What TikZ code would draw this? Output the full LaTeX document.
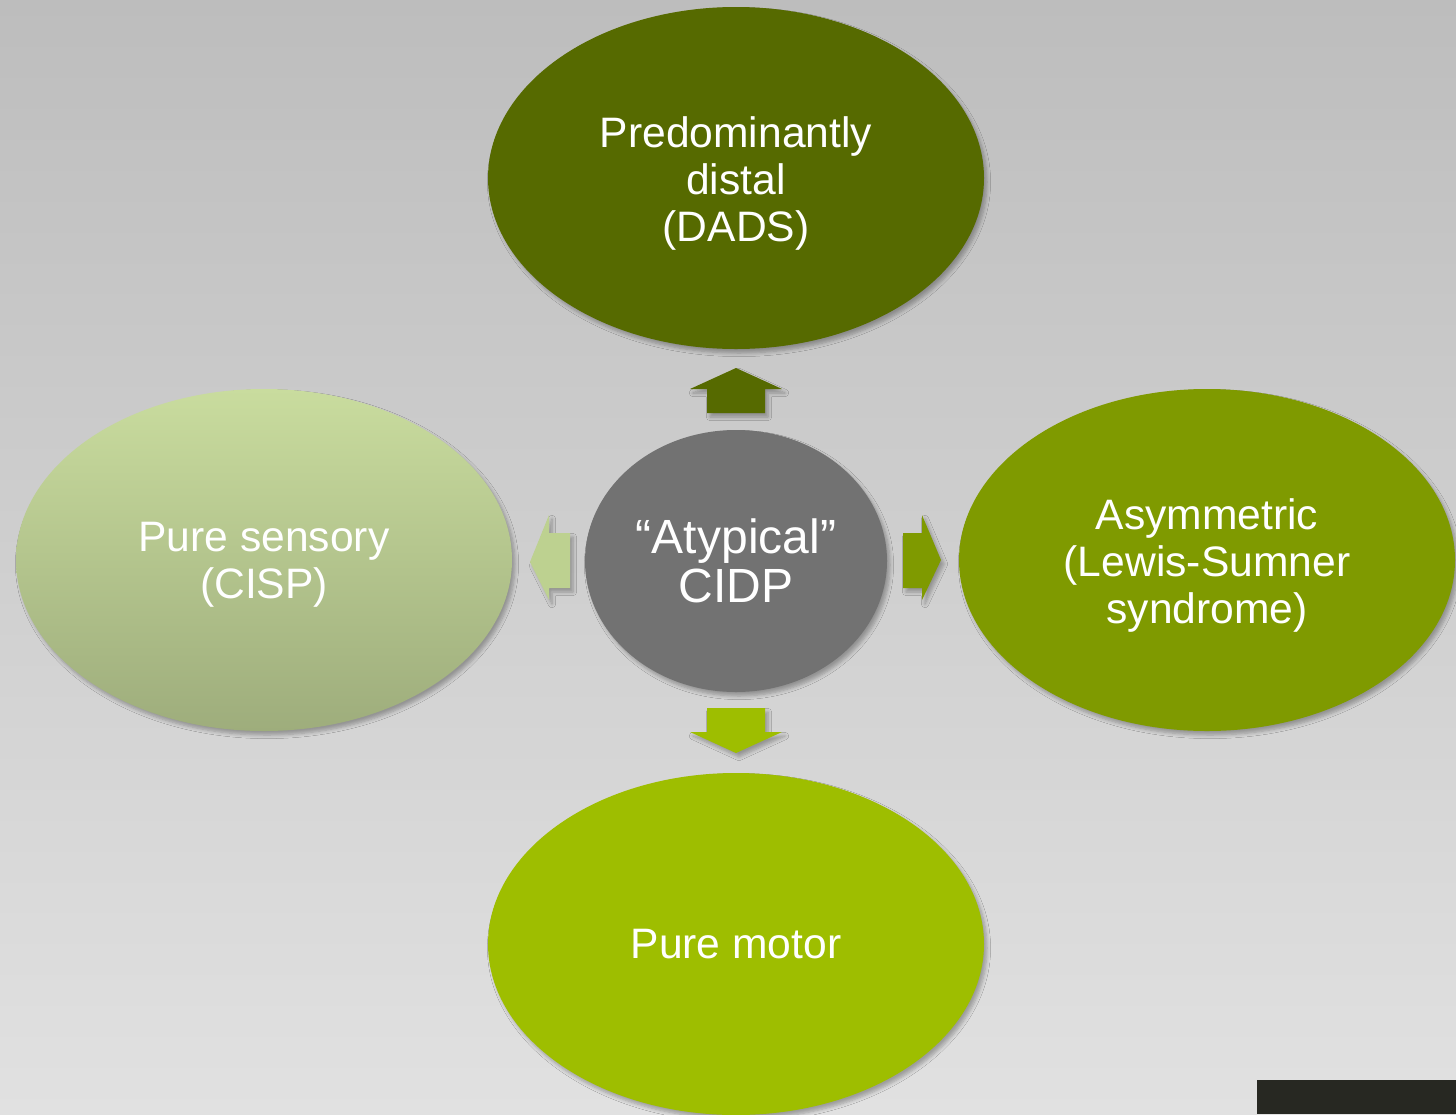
\documentclass[tikz,border=0pt]{standalone}
\usepackage{fontspec}
\setmainfont{Liberation Sans}
\usetikzlibrary{shapes.geometric,shadows.blur}

\definecolor{bgtop}{HTML}{BDBDBD}
\definecolor{bgmid}{HTML}{D6D6D6}
\definecolor{bgbot}{HTML}{E1E1E1}
\definecolor{olivedark}{HTML}{566A00}
\definecolor{olivemid}{HTML}{7F9A00}
\definecolor{olivelight}{HTML}{9EBE00}
\definecolor{sagetop}{HTML}{C9DC9E}
\definecolor{sagebot}{HTML}{9EAD7C}
\definecolor{sagearrow}{HTML}{BDD190}
\definecolor{coregray}{HTML}{727272}
\definecolor{badge}{HTML}{272822}

\tikzset{
  softshadow/.style={blur shadow={shadow xshift=1.5pt, shadow yshift=-2pt,
      shadow blur radius=1.8pt, shadow blur steps=6, shadow opacity=30}},
  bubble/.style={ellipse, minimum width=248pt, minimum height=171pt,
      inner sep=0pt, softshadow},
  bubbletext/.style={align=center, text=white, inner sep=0pt,
      font=\fontsize{21.3}{23.5}\selectfont},
  core/.style={ellipse, minimum width=151pt, minimum height=131pt,
      inner sep=0pt, align=center, text=white, fill=coregray, softshadow,
      font=\fontsize{24}{24.5}\selectfont},
  blockarrow/.style={softshadow}
}

\begin{document}
\begin{tikzpicture}[x=0.5pt, y=-0.5pt]
  \useasboundingbox (0,0) rectangle (1456,1114);
  % backdrop
  \shade[top color=bgtop, middle color=bgmid, bottom color=bgbot]
    (0,0) rectangle (1456,1114);

  % central concept
  \node[core] (cidp) at (736,561) {“Atypical”\\CIDP};

  % variants
  \node[bubble, fill=olivedark] (dads) at (736,178) {};
  \node[bubble, fill=olivemid] (lss) at (1207,560) {};
  \node[bubble, top color=sagetop, bottom color=sagebot, draw=none] (cisp) at (264,560) {};
  \node[bubble, fill=olivelight] (motor) at (736,944) {};

  % their labels
  \node[bubbletext] (dadsText) at ([yshift=-2.5pt]dads.center)
    {Predominantly\\distal\\(DADS)};
  \node[bubbletext] (lssText) at ([yshift=-2.5pt]lss.center)
    {Asymmetric\\(Lewis-Sumner\\syndrome)};
  \node[bubbletext] (cispText) at ([yshift=-2.5pt]cisp.center)
    {Pure sensory\\(CISP)};
  \node[bubbletext] (motorText) at (motor.center) {Pure motor};

  % block arrows from the centre to each variant
  \fill[olivedark, blockarrow] (707,413) -- (707,389) -- (690,389) -- (736,368)
    -- (782,389) -- (765,389) -- (765,413) -- cycle;
  \fill[olivelight, blockarrow] (707,708) -- (765,708) -- (765,732) -- (782,732)
    -- (736,753) -- (690,732) -- (707,732) -- cycle;
  \fill[sagearrow, blockarrow] (570,533) -- (549,533) -- (549,515) -- (530,562)
    -- (549,600) -- (549,588) -- (570,588) -- cycle;
  \fill[olivemid, blockarrow] (903,533) -- (922,533) -- (922,515) -- (941,560)
    -- (922,600) -- (922,588) -- (903,588) -- cycle;

  % dark tab in the lower right corner
  \fill[badge] (1257,1080) rectangle (1456,1114);
\end{tikzpicture}
\end{document}
